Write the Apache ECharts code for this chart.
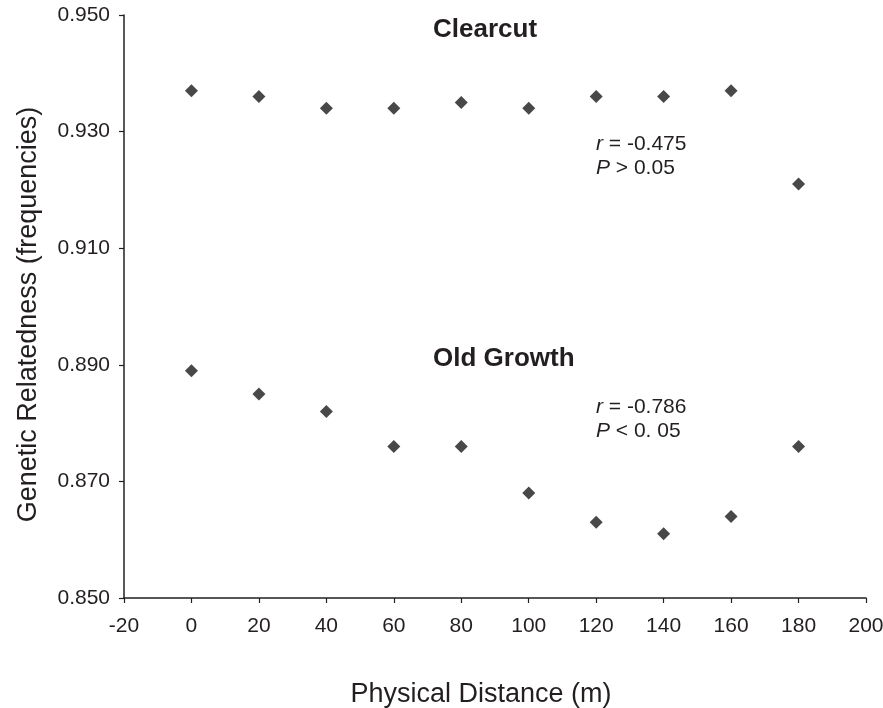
<!DOCTYPE html>
<html>
<head>
<meta charset="utf-8">
<script src="https://cdn.jsdelivr.net/npm/echarts@6/dist/echarts.min.js"></script>
<style>
html,body{margin:0;padding:0;background:#fff;}
#chart{width:883px;height:708px;}
</style>
</head>
<body>
<div id="chart"></div>
<script>
var distances = [0, 20, 40, 60, 80, 100, 120, 140, 160, 180];
var clearcut = [0.937, 0.936, 0.934, 0.934, 0.935, 0.934, 0.936, 0.936, 0.937, 0.921];
var oldGrowth = [0.889, 0.885, 0.882, 0.876, 0.876, 0.868, 0.863, 0.861, 0.864, 0.876];
var xTicks = [-20, 0, 20, 40, 60, 80, 100, 120, 140, 160, 180, 200];
var yTicks = [0.850, 0.870, 0.890, 0.910, 0.930, 0.950];

var ink = '#231f20';
var markColor = '#1c1a1b';
var font = 'Liberation Sans, Arial, sans-serif';

function pairs(xs, ys) { return xs.map(function (x, i) { return [x, ys[i]]; }); }

var chart = echarts.init(document.getElementById('chart'), null, {renderer: 'canvas'});
chart.setOption({
  animation: false,
  backgroundColor: '#ffffff',
  grid: {left: 124, right: 17, top: 15, bottom: 110, containLabel: false, outerBoundsMode: 'none'},
  xAxis: {
    type: 'value',
    min: xTicks[0], max: xTicks[xTicks.length - 1], interval: 20,
    name: 'Physical Distance (m)', nameLocation: 'middle', nameGap: 83,
    nameTextStyle: {fontFamily: font, fontSize: 27, color: ink, padding: [0, 28, 0, 0]},
    axisLine: {show: true, onZero: false, lineStyle: {color: ink, width: 1.5}},
    axisTick: {show: true, inside: false, length: 5, lineStyle: {color: ink, width: 1.2}},
    axisLabel: {fontFamily: font, fontSize: 21, color: ink, margin: 18},
    splitLine: {show: false}
  },
  yAxis: {
    type: 'value',
    min: yTicks[0], max: yTicks[yTicks.length - 1], interval: 0.02,
    name: 'Genetic Relatedness (frequencies)', nameLocation: 'middle', nameGap: 82,
    nameTextStyle: {fontFamily: font, fontSize: 27, color: ink, padding: [0, 16, 0, 0]},
    axisLine: {show: true, onZero: false, lineStyle: {color: ink, width: 1.5}},
    axisTick: {show: true, inside: false, length: 5, lineStyle: {color: ink, width: 1.2}},
    axisLabel: {fontFamily: font, fontSize: 21, color: ink, margin: 14,
      formatter: function (v) { return v.toFixed(3); }},
    splitLine: {show: false}
  },
  series: [
    {name: 'Clearcut', type: 'scatter', symbol: 'diamond', symbolSize: [13, 13],
     itemStyle: {color: markColor}, data: pairs(distances, clearcut)},
    {name: 'Old Growth', type: 'scatter', symbol: 'diamond', symbolSize: [13, 13],
     itemStyle: {color: markColor}, data: pairs(distances, oldGrowth)}
  ],
  graphic: [
    {type: 'text', left: 433, top: 17, style: {text: 'Clearcut', font: 'bold 26px ' + font, fill: ink}},
    {type: 'text', left: 433, top: 346, style: {text: 'Old Growth', font: 'bold 26px ' + font, fill: ink}},
    {type: 'text', left: 596, top: 132, style: {
      text: '{i|r} = -0.475\n{i|P} > 0.05', font: '21px ' + font, fill: ink, lineHeight: 24,
      rich: {i: {fontStyle: 'italic', fontFamily: font, fontSize: 21, fill: ink, lineHeight: 24}}}},
    {type: 'text', left: 596, top: 395, style: {
      text: '{i|r} = -0.786\n{i|P} < 0. 05', font: '21px ' + font, fill: ink, lineHeight: 24,
      rich: {i: {fontStyle: 'italic', fontFamily: font, fontSize: 21, fill: ink, lineHeight: 24}}}}
  ]
});
</script>
</body>
</html>
